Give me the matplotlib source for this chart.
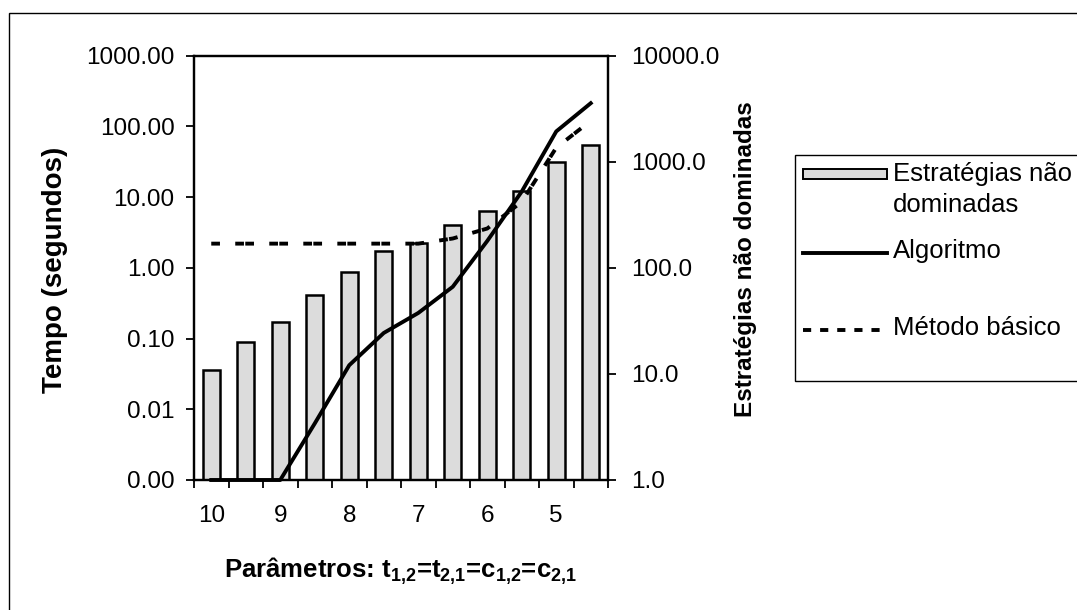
import matplotlib
matplotlib.use("Agg")
import matplotlib.pyplot as plt
from matplotlib.ticker import FixedLocator, NullLocator, FuncFormatter
from matplotlib.patches import Rectangle
from matplotlib.lines import Line2D

plt.rcParams['font.family'] = ['Liberation Sans', 'DejaVu Sans']
plt.rcParams['mathtext.fontset'] = 'custom'
plt.rcParams['mathtext.bf'] = 'Liberation Sans:bold'
plt.rcParams['mathtext.rm'] = 'Liberation Sans:bold'
plt.rcParams['mathtext.default'] = 'bf'

# Parameter values (t12 = t21 = c12 = c21)
parametros = [10, 9.5, 9, 8.5, 8, 7.5, 7, 6.5, 6, 5.5, 5, 4.5]
# number of non-dominated strategies (right axis)
estrategias = [11, 20, 31, 55, 92, 144, 171, 253, 345, 535, 985, 1450]
# time in seconds (left axis)
algoritmo = [0.001, 0.001, 0.001, 0.0063, 0.042, 0.12, 0.23, 0.54, 2.4, 12, 85, 213]
metodo_basico = [2.2, 2.2, 2.2, 2.2, 2.2, 2.2, 2.2, 2.6, 3.6, 8.6, 50, 120]

left_ticks = [0.001, 0.01, 0.1, 1, 10, 100, 1000]
right_ticks = [1, 10, 100, 1000, 10000]

W, H = 1077, 610
fig = plt.figure(figsize=(W / 100, H / 100), dpi=100)


def px(x, y):
    return x / W, 1 - y / H


# chart area border (runs off the right and bottom edge)
fig.add_artist(Rectangle(px(9, 640), (W + 20) / W, (640 - 13) / H,
                         transform=fig.transFigure, fill=False,
                         edgecolor='black', lw=1.0))

ax = fig.add_axes([194 / W, 1 - 480 / H, (608 - 194) / W, (480 - 55.7) / H])
ax2 = ax.twinx()
ax.set_zorder(ax2.get_zorder() + 1)
ax.patch.set_visible(False)

x = list(range(len(parametros)))
LW = 2.8
BAR_GRAY = '#dcdcdc'

ax2.bar(x, [v - 1 for v in estrategias], bottom=1, width=0.5,
        facecolor=BAR_GRAY, edgecolor='black', linewidth=1.8)
ax.plot(x, algoritmo, color='black', lw=LW, clip_on=False,
        solid_joinstyle='round')
ax.plot(x, metodo_basico, color='black', lw=LW,
        linestyle=(2.58, (2.24, 0.34, 2.24, 3.93)), dash_capstyle='butt')

ax.set_yscale('log')
ax2.set_yscale('log')
ax.set_ylim(0.001, 1000)
ax2.set_ylim(1, 10000)
ax.set_xlim(-0.5, len(parametros) - 0.5)

ax.yaxis.set_major_locator(FixedLocator(left_ticks))
ax.yaxis.set_minor_locator(NullLocator())
ax.yaxis.set_major_formatter(FuncFormatter(lambda v, p: f'{v:.2f}'))
ax2.yaxis.set_major_locator(FixedLocator(right_ticks))
ax2.yaxis.set_minor_locator(NullLocator())
ax2.yaxis.set_major_formatter(FuncFormatter(lambda v, p: f'{v:.1f}'))

# tick marks between categories, labels every other category
ax.xaxis.set_major_locator(FixedLocator([i - 0.5 for i in range(len(parametros) + 1)]))
ax.xaxis.set_major_formatter(FuncFormatter(lambda v, p: ''))
lab_pos = [i for i, p in enumerate(parametros) if p == int(p)]
ax.xaxis.set_minor_locator(FixedLocator(lab_pos))
ax.xaxis.set_minor_formatter(FuncFormatter(lambda v, p: f'{parametros[int(round(v))]:g}'))

ax.tick_params(axis='x', which='major', direction='out', length=6, width=1.3)
ax.tick_params(axis='x', which='minor', length=0, pad=18, labelsize=17.5)
ax.tick_params(axis='y', direction='out', length=6, width=1.3, pad=8, labelsize=17.5)
ax2.tick_params(axis='y', direction='out', length=6, width=1.3, pad=11, labelsize=17.5)

for a in (ax, ax2):
    for s in a.spines.values():
        s.set_linewidth(1.6)

ax.set_ylabel('Tempo (segundos)', fontsize=20, fontweight='bold')
ax.yaxis.label.set_va('center')
ax.yaxis.set_label_coords(-0.336, 0.495)
ax2.set_ylabel('Estratégias não dominadas', fontsize=17.5, fontweight='bold')
ax2.yaxis.label.set_va('center')
ax2.yaxis.set_label_coords(1.331, 0.52)
ax.set_xlabel('Parâmetros: t$_{1{,}2}$=t$_{2{,}1}$=c$_{1{,}2}$=c$_{2{,}1}$',
              fontsize=18.5, fontweight='bold')
ax.xaxis.set_label_coords(0.498, -0.179)

# legend box
fig.add_artist(Rectangle(px(795, 381), (W - 795 + 20) / W, (381 - 155) / H,
                         transform=fig.transFigure, fill=True, facecolor='white',
                         edgecolor='black', lw=1.0))
fig.add_artist(Rectangle(px(803, 179), (887 - 803) / W, 10 / H,
                         transform=fig.transFigure, facecolor=BAR_GRAY,
                         edgecolor='black', lw=1.4))
fig.add_artist(Line2D([803 / W, 887 / W], [1 - 253 / H] * 2,
                      transform=fig.transFigure, color='black', lw=LW))
fig.add_artist(Line2D([803 / W, 887 / W], [1 - 330 / H] * 2,
                      transform=fig.transFigure, color='black', lw=LW,
                      dashes=(2.1, 2.3), dash_capstyle='butt'))
legend_font = dict(fontsize=18.5, va='center', ha='left')
fig.text(*px(893, 174), 'Estratégias não', **legend_font)
fig.text(*px(893, 205), 'dominadas', **legend_font)
fig.text(*px(893, 251), 'Algoritmo', **legend_font)
fig.text(*px(893, 328), 'Método básico', **legend_font)

fig.savefig('out.png', dpi=100, facecolor='white')
